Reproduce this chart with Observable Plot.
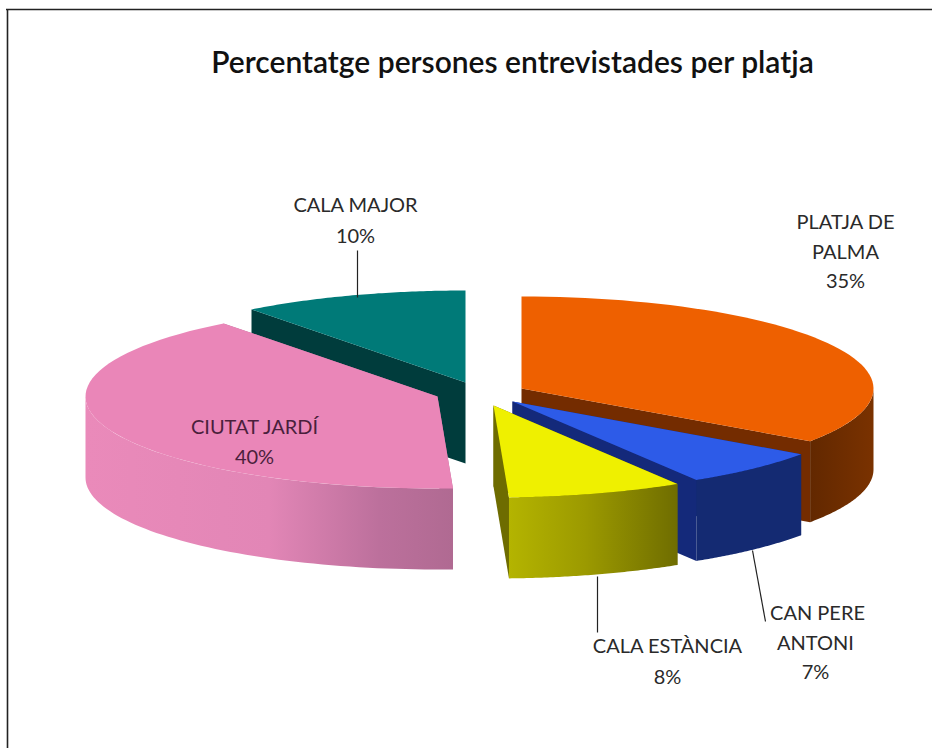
<!DOCTYPE html>
<html>
<head>
<meta charset="utf-8">
<style>html,body{margin:0;padding:0;background:#fff}svg{display:block}</style>
<script src="https://cdn.jsdelivr.net/npm/d3@7"></script>
<script src="https://cdn.jsdelivr.net/npm/@observablehq/plot@0.6"></script>
</head>
<body>
<script>
// Data: slices clockwise from 12 o'clock (unrounded shares)
const places = ["PLATJA DE PALMA", "CAN PERE ANTONI", "CALA ESTÀNCIA", "CIUTAT JARDÍ", "CALA MAJOR"];
const shares = [34.7, 6.55, 8.05, 40.3, 10.4];
const percentLabels = ["35%", "7%", "8%", "40%", "10%"];

// Drawing layout
const apexX = [521, 512, 493, 437, 465];
const apexY = [388, 401, 405, 396, 382];
const rx = 352, ry = 92, depth = 81;
const topColors = ["#ee6000", "#2d5be8", "#eff000", "#ea86b8", "#007a78"];
const faceColors = ["#742c00", "#14297a", "#6e6c00", "#b46c96", "#003c3c"];
const wallFills = ["url(#wall0)", "#142a72", "url(#wall2)", "url(#wall3)", "#003c3c"];
const paintOrder = [4, 3, 0, 1, 2];

const arcs = d3.pie().sort(null).value(d => d)(shares);
const rim = (i, a) => ({x: apexX[i] + rx * Math.sin(a), y: apexY[i] - ry * Math.cos(a)});
const arcPoints = (i, a0, a1) => d3.range(61).map(k => rim(i, a0 + (a1 - a0) * k / 60));
const drop = p => ({x: p.x, y: p.y + depth});

const gradient = (id, stops) => `<linearGradient id="${id}" x1="0" x2="1" y1="0" y2="0">` +
  stops.map(([o, c]) => `<stop offset="${o}" stop-color="${c}"/>`).join("") + `</linearGradient>`;
const defsMark = () => {
  const g = document.createElementNS("http://www.w3.org/2000/svg", "g");
  g.innerHTML = `<defs>` +
    gradient("wall0", [[0, "#622800"], [0.5, "#6e2d00"], [1, "#7a3200"]]) +
    gradient("wall2", [[0, "#b4b400"], [0.45, "#9c9a00"], [1, "#6f6d00"]]) +
    gradient("wall3", [[0, "#ea8aba"], [0.5, "#e286b6"], [0.8, "#bc709c"], [1, "#b06a92"]]) +
    `</defs>`;
  return g;
};

const poly = (points, fill) => Plot.line(points, {x: "x", y: "y", fill, stroke: "none", curve: "linear"});
const marks = [defsMark];
for (const i of paintOrder) {
  const {startAngle: a0, endAngle: a1} = arcs[i];
  const apex = {x: apexX[i], y: apexY[i]};
  // the two cut faces, painted first so that the wall and top hide them where they should
  for (const a of [a0, a1]) {
    const r = rim(i, a);
    marks.push(poly([apex, r, drop(r), drop(apex)], faceColors[i]));
  }
  // outer wall: only the part of the rim facing the viewer
  const w0 = Math.max(a0, Math.PI / 2), w1 = Math.min(a1, 3 * Math.PI / 2);
  if (w1 > w0) {
    const edge = arcPoints(i, w0, w1);
    marks.push(poly([...edge, ...edge.map(drop).reverse()], wallFills[i]));
  }
  // top
  marks.push(poly([apex, ...arcPoints(i, a0, a1)], topColors[i]));
}

// Leader lines
const leaders = [
  {x1: 357, y1: 250, x2: 357, y2: 297},
  {x1: 597, y1: 576, x2: 597, y2: 632},
  {x1: 752, y1: 550, x2: 765, y2: 621}
];
marks.push(Plot.link(leaders, {x1: "x1", y1: "y1", x2: "x2", y2: "y2", stroke: "#222", strokeWidth: 1.2}));

// Frame of the picture
marks.push(Plot.ruleY([9], {x1: 6, x2: 932, stroke: "#222", strokeWidth: 1.6}));
marks.push(Plot.ruleX([7], {y1: 9, y2: 748, stroke: "#222", strokeWidth: 1.6}));

// Title and labels
const font = "Lato, Carlito, sans-serif";
const texts = [
  {t: places[4], x: 355, y: 205},
  {t: percentLabels[4], x: 355, y: 236},
  {t: "PLATJA DE", x: 845, y: 222},
  {t: "PALMA", x: 845, y: 252},
  {t: percentLabels[0], x: 845, y: 281},
  {t: "CAN PERE", x: 817, y: 613},
  {t: "ANTONI", x: 815, y: 643},
  {t: percentLabels[1], x: 815, y: 672},
  {t: places[2], x: 667, y: 646},
  {t: percentLabels[2], x: 667, y: 677}
];
marks.push(Plot.text(texts, {x: "x", y: "y", text: "t", fontFamily: font, fontSize: 20, fill: "#2a2a2a", textAnchor: "middle"}));
marks.push(Plot.text([{t: places[3], x: 254, y: 427}, {t: percentLabels[3], x: 254, y: 457}],
  {x: "x", y: "y", text: "t", fontFamily: font, fontSize: 20, fill: "#4a1f3c", textAnchor: "middle"}));
marks.push(Plot.text(["Percentatge persones entrevistades per platja"], {
  x: () => 512, y: () => 63, text: d => d, fontFamily: font, fontSize: 30, fontWeight: 600, fill: "#111", textAnchor: "middle"
}));

const chart = Plot.plot({
  width: 932, height: 748, margin: 0,
  style: {background: "#fff", overflow: "visible"},
  x: {domain: [0, 932], range: [0, 932], axis: null},
  y: {domain: [0, 748], range: [0, 748], axis: null},
  marks
});
document.body.appendChild(chart);
</script>
</body>
</html>
